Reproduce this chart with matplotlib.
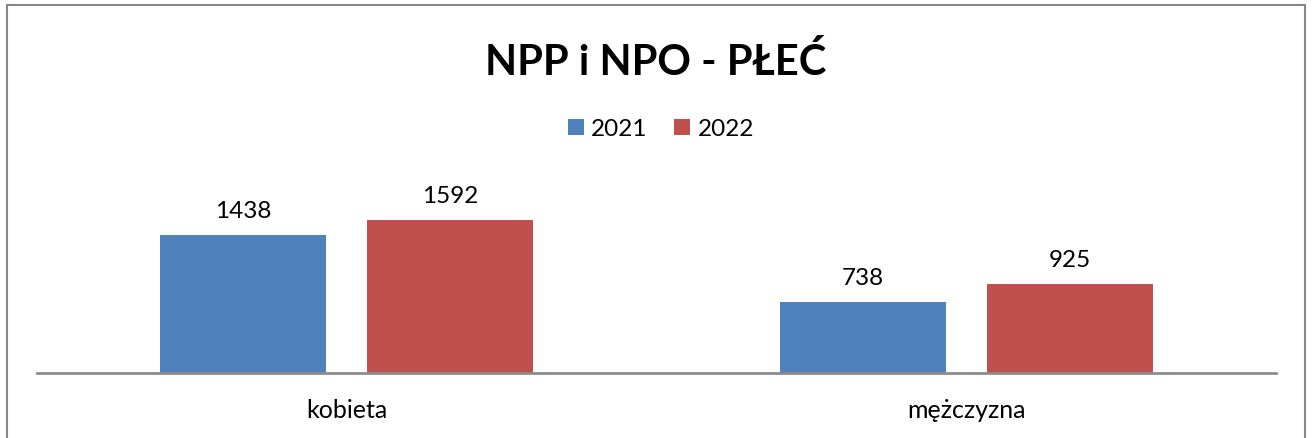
import numpy as np
import matplotlib.pyplot as plt
from matplotlib.patches import Rectangle

plt.rcParams['font.family'] = ['Lato', 'DejaVu Sans']

categories = ["kobieta", "mężczyzna"]
years = ["2021", "2022"]
values_2021 = [1438, 738]
values_2022 = [1592, 925]
colors = ["#4F81BD", "#C0504D"]

W, H = 1312, 439
fig = plt.figure(figsize=(W / 100, H / 100), dpi=100)
ax = fig.add_axes([37 / W, (H - 374) / H, (1276 - 37) / W, 224 / H])

x = np.arange(len(categories))
bw = 0.268
off = 0.167
for vals, c, lab, sgn in [(values_2021, colors[0], years[0], -1),
                          (values_2022, colors[1], years[1], 1)]:
    bars = ax.bar(x + sgn * off, vals, width=bw, color=c, label=lab)
    for b, v in zip(bars, vals):
        ax.annotate(str(v), (b.get_x() + b.get_width() / 2, v),
                    xytext=(0, 10), textcoords="offset points",
                    ha="center", va="bottom", fontsize=17.5)

ax.set_xlim(-0.5, 1.5)
ax.set_ylim(0, 2331)
ax.set_xticks(x)
ax.set_xticklabels(categories, fontsize=18)
ax.tick_params(axis="x", length=0, pad=18)
ax.set_yticks([])
for s in ["top", "right", "left"]:
    ax.spines[s].set_visible(False)
ax.spines["bottom"].set_color("#8C8C8C")
ax.spines["bottom"].set_linewidth(2)

fig.text(0.5, 1 - 62 / H, "NPP i NPO - PŁEĆ", ha="center", va="center",
         fontsize=30, fontweight="bold")
fig.legend(loc="center", bbox_to_anchor=(661 / W, 1 - 130 / H), ncol=2,
           frameon=False, fontsize=17.5, handlelength=0.65, handleheight=0.65,
           handletextpad=0.3, columnspacing=1.1)

fig.patches.append(Rectangle((7 / W, -0.1), (1305 - 7) / W, 1.1 - 6 / H,
                             transform=fig.transFigure, fill=False,
                             edgecolor="#878787", linewidth=1.5))

fig.savefig("out.png", dpi=100)
